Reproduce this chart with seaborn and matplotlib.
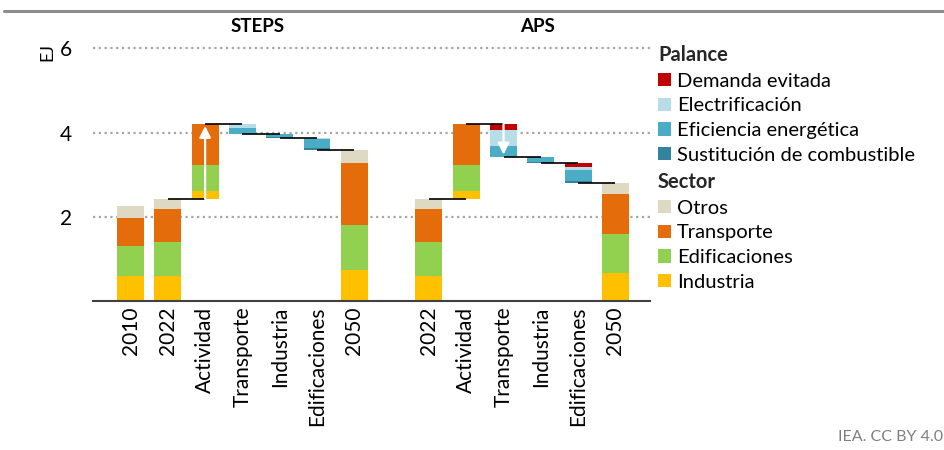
import numpy as np
import pandas as pd
import matplotlib
matplotlib.use("Agg")
import matplotlib.pyplot as plt
from matplotlib.patches import Patch
from matplotlib.lines import Line2D
import seaborn as sns

# ---------------- data ----------------
sectors = ["Industria", "Edificaciones", "Transporte", "Otros"]          # bottom -> top
sector_colors = ["#FFC000", "#92D050", "#E46C0A", "#DDD9C3"]
levers = ["Demanda evitada", "Electrificación", "Eficiencia energética",
          "Sustitución de combustible"]                                     # top -> bottom
lever_colors = ["#C00000", "#B7DEE8", "#4BACC6", "#31849B"]

steps_labels = ["2010", "2022", "Actividad", "Transporte", "Industria", "Edificaciones", "2050"]
aps_labels = ["2022", "Actividad", "Transporte", "Industria", "Edificaciones", "2050"]
scenario_titles = ["STEPS", "APS"]

hist_2010 = [0.61, 0.70, 0.67, 0.28]
hist_2022 = [0.61, 0.80, 0.78, 0.24]
actividad = [0.19, 0.61, 0.98, 0.00]
steps_2050 = [0.74, 1.07, 1.47, 0.32]
aps_2050 = [0.67, 0.93, 0.94, 0.27]

steps_transporte = [0.00, 0.09, 0.14, 0.02]
steps_industria = [0.00, 0.00, 0.06, 0.02]
steps_edificaciones = [0.00, 0.02, 0.23, 0.03]
aps_transporte = [0.15, 0.37, 0.26, 0.00]
aps_industria = [0.00, 0.00, 0.13, 0.02]
aps_edificaciones = [0.10, 0.07, 0.26, 0.04]

steps_kinds = ["abs", "abs", "up", "down", "down", "down", "abs"]
aps_kinds = ["abs", "up", "down", "down", "down", "abs"]
steps_values = [hist_2010, hist_2022, actividad, steps_transporte, steps_industria,
                steps_edificaciones, steps_2050]
aps_values = [hist_2022, actividad, aps_transporte, aps_industria, aps_edificaciones, aps_2050]
arrow_slots = [("STEPS", "Actividad"), ("APS", "Transporte")]

# ---------------- layout of slots ----------------
labels = steps_labels + [""] + aps_labels
kinds = steps_kinds + [None] + aps_kinds
values = steps_values + [None] + aps_values
scen = ["STEPS"] * len(steps_labels) + [None] + ["APS"] * len(aps_labels)
n = len(labels)
keys = [f"k{i}" for i in range(n)]

heights = {name: [0.0] * n for name in sectors + levers}
bottoms = {name: [0.0] * n for name in sectors + levers}
start_lv = [None] * n
end_lv = [None] * n

level = 0.0
for i in range(n):
    k, vals = kinds[i], values[i]
    if k is None:
        continue
    start_lv[i] = level
    if k in ("abs", "up"):
        b = 0.0 if k == "abs" else level
        for name, v in zip(sectors, vals):
            heights[name][i] = v
            bottoms[name][i] = b
            b += v
        level = b
    else:
        t = level
        for name, v in zip(levers, vals):
            t -= v
            heights[name][i] = v
            bottoms[name][i] = t
        level = t
    end_lv[i] = level

# ---------------- figure ----------------
sns.set_theme(style="white")
plt.rcParams["font.family"] = ["Lato", "DejaVu Sans"]
TXT = "#000000"

fig = plt.figure(figsize=(9.45, 4.5), dpi=100)
px_per_ej = 42.15
y0 = 301.3
ytop = 6.1
left_px, right_px = 93.2, 650.1
ax = fig.add_axes([left_px / 945, 1 - y0 / 450, (right_px - left_px) / 945,
                   ytop * px_per_ej / 450])

for name, color in zip(sectors + levers, sector_colors + lever_colors):
    df = pd.DataFrame({"key": keys, "value": heights[name]})
    sns.barplot(data=df, x="key", y="value", order=keys, color=color, saturation=1,
                width=0.72, errorbar=None, bottom=bottoms[name], linewidth=0, ax=ax,
                zorder=2)

# connectors
for i in range(n - 1):
    if kinds[i] is None or kinds[i + 1] is None:
        continue
    if kinds[i] == "abs" and kinds[i + 1] == "abs":
        continue
    ax.plot([i, i + 1], [end_lv[i], end_lv[i]], color="black", lw=1.2, zorder=4,
            solid_capstyle="butt")

# arrows
for sc, lab in arrow_slots:
    i = [j for j in range(n) if scen[j] == sc and labels[j] == lab][0]
    ax.annotate("", xy=(i, end_lv[i]), xytext=(i, start_lv[i]),
                arrowprops=dict(arrowstyle="-|>", color="white", lw=1.6,
                                mutation_scale=17, shrinkA=0, shrinkB=1.5),
                zorder=5)

ax.set_xlim(-1.0, n - 1 + 0.93)
ax.set_ylim(0, ytop)
ax.set_yticks([2, 4, 6])
ax.set_yticklabels(["2", "4", "6"], fontsize=15, color=TXT)
ax.set_xticks(range(n))
ax.set_xticklabels(labels, rotation=90, fontsize=15, color=TXT, va="top")
ax.tick_params(axis="x", length=0, pad=4)
ax.tick_params(axis="y", length=0, pad=15)
ax.set_xlabel("")
ax.set_ylabel("")
ax.yaxis.grid(True, color="#A6A6A6", linestyle=(0, (1, 1.6)), lw=1.6, zorder=0)
ax.xaxis.grid(False)
ax.set_axisbelow(True)
for s in ["top", "right", "left"]:
    ax.spines[s].set_visible(False)
ax.spines["bottom"].set_color("#404040")
ax.spines["bottom"].set_linewidth(1.5)

# scenario titles
ax.text(0.296, 1.067, scenario_titles[0], transform=ax.transAxes, ha="center",
        va="center", fontsize=13.5, fontweight="bold", color=TXT)
ax.text(0.797, 1.067, scenario_titles[1], transform=ax.transAxes, ha="center",
        va="center", fontsize=13.5, fontweight="bold", color=TXT)

# unit label
fig.text(47 / 945, 1 - 52 / 450, "EJ", rotation=90, ha="center", va="center",
         fontsize=13, color=TXT)

# header rule & footer
fig.add_artist(Line2D([4 / 945, 1], [1 - 10.5 / 450] * 2, transform=fig.transFigure,
                      color="#8C8C8C", lw=2.2))
fig.text(943 / 945, 1 - 437 / 450, "IEA. CC BY 4.0", ha="right", va="center",
         fontsize=11.5, color="#7F7F7F")

# legends
h1 = [Patch(facecolor=c, edgecolor="none") for c in lever_colors]
h2 = [Patch(facecolor=c, edgecolor="none") for c in sector_colors[::-1]]
common = dict(frameon=False, fontsize=14.5, handlelength=0.65, handleheight=0.65,
              handletextpad=0.3, labelspacing=0.38, borderpad=0, borderaxespad=0,
              alignment="left", loc="upper left",
              title_fontproperties={"weight": "bold", "size": 14.5})
lg1 = fig.legend(h1, levers, title="Palance", bbox_to_anchor=(658 / 945, 1 - 45 / 450),
                 **common)
lg2 = fig.legend(h2, sectors[::-1], title="Sector",
                 bbox_to_anchor=(658 / 945, 1 - 172 / 450), **common)
for lg in (lg1, lg2):
    for t in lg.get_texts():
        t.set_color(TXT)

fig.savefig("out.png", dpi=100)
